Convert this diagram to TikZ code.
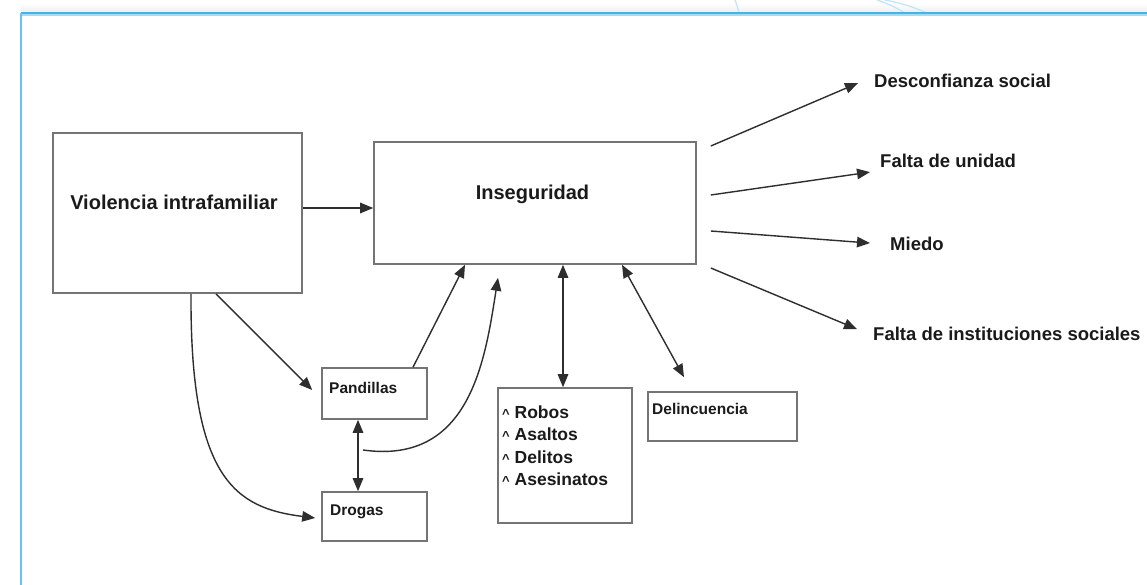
\documentclass[tikz,border=0pt]{standalone}
\usepackage{fontspec}
\setmainfont{Liberation Sans}
\usetikzlibrary{arrows.meta}

\definecolor{framedark}{HTML}{45B4E2}
\definecolor{framelight}{HTML}{A2DDF4}
\definecolor{decoblue}{HTML}{BFE6F6}
\definecolor{boxgrey}{HTML}{747474}
\definecolor{linegrey}{HTML}{2E2E2E}
\definecolor{inkdark}{HTML}{1A1A1A}

\newcommand{\caretmark}{{\fontsize{13}{13}\selectfont\textasciicircum}}

\begin{document}
\begin{tikzpicture}[x=1pt,y=-1pt,
  box/.style={draw=boxgrey,line width=1.6pt,rectangle,inner sep=0pt,fill=white},
  txt/.style={inner sep=0pt,text=inkdark,font=\bfseries},
  bigtxt/.style={txt,font=\fontsize{20}{24}\selectfont\bfseries},
  sidetxt/.style={txt,font=\fontsize{18.5}{22}\selectfont\bfseries},
  smalltxt/.style={txt,font=\fontsize{15.5}{18}\selectfont\bfseries},
  listtxt/.style={txt,font=\fontsize{17.5}{21}\selectfont\bfseries},
  conn/.style={draw=linegrey,line width=1.4pt,-{Triangle[length=13pt,width=10.5pt]}},
  dconn/.style={draw=linegrey,line width=1.4pt,{Triangle[length=13pt,width=10.5pt]}-{Triangle[length=13pt,width=10.5pt]}}
]
\useasboundingbox (0,0) rectangle (1147,585);
\fill[white] (0,0) rectangle (1147,585);

% faint shadow above the frame and the frame itself
\shade[top color=white,bottom color=black!7] (21,3) rectangle (1147,13);
\draw[decoblue,line width=1.2pt] (735,0) to[bend left=4] (739,13);
\draw[decoblue,line width=1.2pt] (877,0) to[bend left=6] (905,13);
\draw[decoblue,line width=1.2pt] (885,0) to[bend left=6] (927,13);
\draw[framelight,line width=1.6pt] (21,14.8) -- (1147,14.8);
\draw[framedark,line width=1.1pt] (21,13) -- (1147,13);
\draw[framedark!80,line width=1.1pt] (21,13) -- (21,585);

% boxes
\node[box,minimum width=249pt,minimum height=160pt] (viol) at (177.5,213) {};
\node[box,minimum width=322pt,minimum height=122pt] (inseg) at (535,203) {};
\node[box,minimum width=105pt,minimum height=51pt] (pand) at (374.5,393.5) {};
\node[box,minimum width=105pt,minimum height=49pt] (drog) at (374.5,516.5) {};
\node[box,minimum width=134pt,minimum height=135pt] (robos) at (565,455.5) {};
\node[box,minimum width=149pt,minimum height=49pt] (delin) at (722.5,416.5) {};

% box texts
\node[bigtxt,anchor=base] (violt) at (174,210) {Violencia intrafamiliar};
\node[bigtxt,anchor=base] (insegt) at (532.5,200) {Inseguridad};
\node[smalltxt,anchor=base west] (pandt) at (329,393.5) {Pandillas};
\node[smalltxt,anchor=base west] (drogt) at (330,515.5) {Drogas};
\node[smalltxt,anchor=base west] (delint) at (652,414.5) {Delincuencia};
\node[listtxt,anchor=base west] (l1) at (502,418) {\caretmark\ Robos};
\node[listtxt,anchor=base west] (l2) at (502,440.5) {\caretmark\ Asaltos};
\node[listtxt,anchor=base west] (l3) at (502,463) {\caretmark\ Delitos};
\node[listtxt,anchor=base west] (l4) at (502,485.5) {\caretmark\ Asesinatos};

% consequence labels
\node[sidetxt,anchor=base west] (desc) at (874,87.7) {Desconfianza social};
\node[sidetxt,anchor=base west] (falta) at (880,167.7) {Falta de unidad};
\node[sidetxt,anchor=base west] (miedo) at (890,250.7) {Miedo};
\node[sidetxt,anchor=base west] (inst) at (873,340.7) {Falta de instituciones sociales};

% connectors
\draw[conn] ([yshift=5pt]viol.east) -- ([yshift=-5pt]inseg.west);
\draw[conn] ([xshift=38.5pt]viol.south) -- ([xshift=-9pt,yshift=3.5pt]pand.west);
\draw[conn] ([xshift=13.5pt]viol.south) .. controls +(-1,185) and +(-80,-10) .. ([xshift=-6pt,yshift=-1.5pt]drog.west);
\draw[conn] ([xshift=38.5pt]pand.north) -- ([xshift=-70pt]inseg.south);
\coordinate (loopstart) at (363,450);
\draw[conn] (loopstart) .. controls +(107,15) and +(-13,83) .. ([xshift=-37pt,yshift=-13pt]inseg.south);
\draw[dconn] ([xshift=-16.5pt]pand.south) -- ([xshift=-16.5pt]drog.north);
\draw[dconn] ([xshift=28pt]inseg.south) -- ([xshift=-2pt]robos.north);
\draw[dconn] ([xshift=87pt]inseg.south) -- ([xshift=-38.5pt,yshift=14pt]delin.north);

\draw[conn] ([xshift=14pt,yshift=57pt]inseg.east) -- ([xshift=-16pt,yshift=-2pt]desc.west);
\draw[conn] ([xshift=14pt,yshift=8pt]inseg.east) -- ([xshift=-10pt,yshift=-11pt]falta.west);
\draw[conn] ([xshift=14pt,yshift=-28pt]inseg.east) -- ([xshift=-20pt,yshift=1pt]miedo.west);
\draw[conn] ([xshift=14pt,yshift=-65pt]inseg.east) -- ([xshift=-16pt,yshift=5pt]inst.west);
\end{tikzpicture}
\end{document}
